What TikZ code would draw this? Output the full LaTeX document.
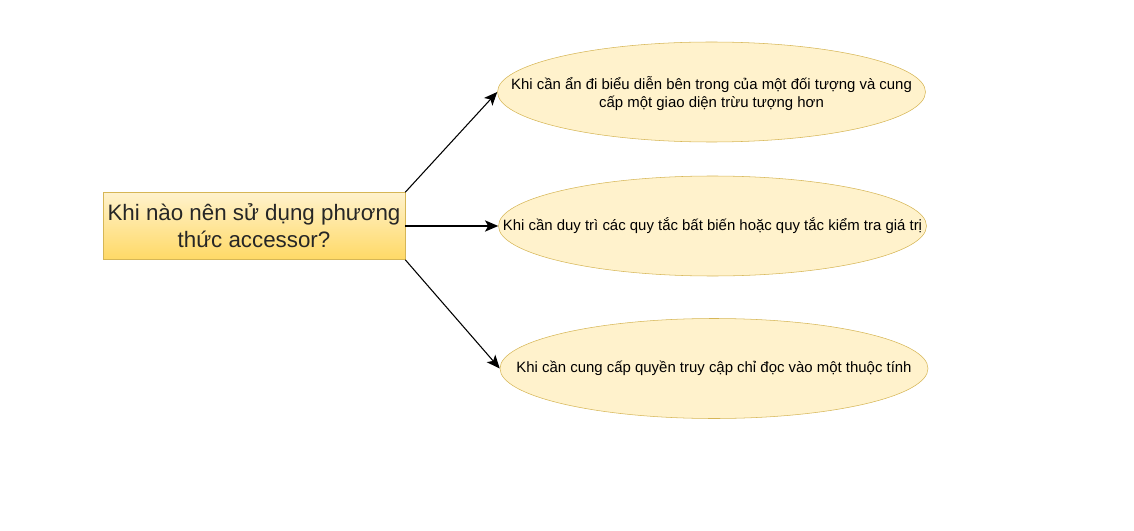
\documentclass[tikz,border=0pt]{standalone}
\usepackage{fontspec}
\setmainfont{Liberation Sans}
\usetikzlibrary{shapes.geometric,arrows.meta}
\definecolor{fillY}{HTML}{FFF2CC}
\definecolor{fillY2}{HTML}{FFD966}
\definecolor{strokeY}{HTML}{D6B656}
\begin{document}
\begin{tikzpicture}[x=0.75pt,y=-0.75pt,
  topic/.style={rectangle,draw=strokeY,top color=fillY,bottom color=fillY2,minimum width=226.5pt,minimum height=50.25pt,inner sep=0pt,align=center,font=\fontsize{16.75pt}{20.25pt}\selectfont,text=black!85},
  leaf/.style={ellipse,draw=strokeY,fill=fillY,minimum width=321pt,minimum height=75pt,inner sep=0pt},
  leaftext/.style={inner sep=0pt,align=center,font=\fontsize{11.2pt}{13.5pt}\selectfont},
  conn/.style={-{Stealth[length=10pt,width=8.5pt,inset=2.5pt]},line width=0.8pt}]
\useasboundingbox (0,0) rectangle (1134,531);
\node[topic] (q) at (254,226) {Khi nào nên sử dụng phương\\thức accessor?};
\node[leaf] (a) at (711.5,92) {};
\node[leaftext] (at) at ([yshift=-1pt]a.center) {Khi cần ẩn đi biểu diễn bên trong của một đối tượng và cung\\cấp một giao diện trừu tượng hơn};
\node[leaf] (b) at (712.5,226) {};
\node[leaftext] (bt) at (b.center) {Khi cần duy trì các quy tắc bất biến hoặc quy tắc kiểm tra giá trị};
\node[leaf] (c) at (714,368.5) {};
\node[leaftext] (ct) at (c.center) {Khi cần cung cấp quyền truy cập chỉ đọc vào một thuộc tính};
\draw[conn] (q.north east) -- (a.west);
\draw[conn] (q.east) -- (b.west);
\draw[conn] (q.south east) -- (c.west);
\end{tikzpicture}
\end{document}
